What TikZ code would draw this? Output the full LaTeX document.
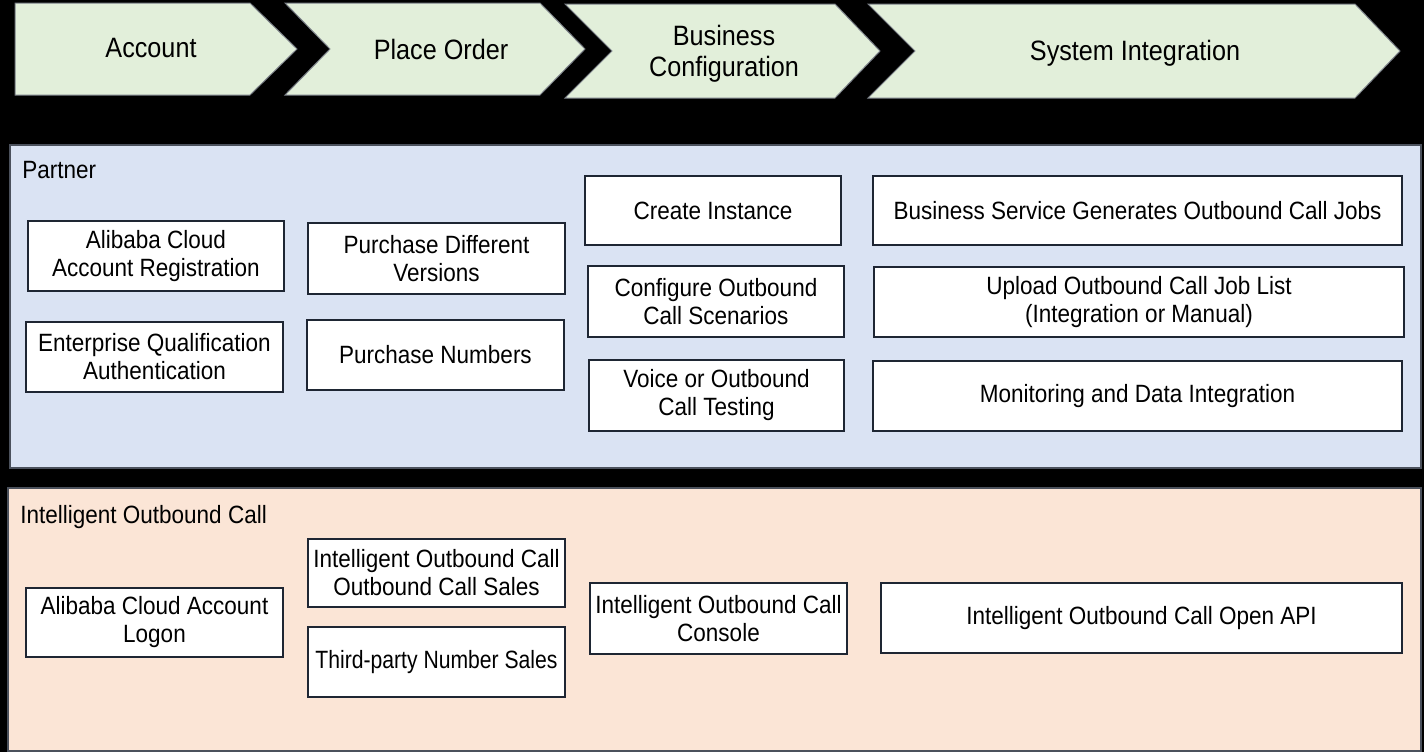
\documentclass[tikz,border=0pt]{standalone}
\usepackage{fontspec}
\setmainfont{Liberation Sans}[FakeStretch=0.9]
\definecolor{chevgreen}{HTML}{E2EFDA}
\definecolor{partnerblue}{HTML}{DAE3F3}
\definecolor{iocpeach}{HTML}{FBE5D6}
\definecolor{edgecol}{HTML}{1E2633}
\begin{document}
\begin{tikzpicture}[x=0.5pt,y=-0.5pt,
  itembox/.style={draw=edgecol, line width=0.8pt, fill=white, inner sep=0pt, align=center, font=\fontsize{12.5}{14}\selectfont},
  chevtext/.style={align=center, font=\fontsize{14}{15.5}\selectfont},
  chev/.style={draw=edgecol!60, line width=0.5pt, fill=chevgreen},
  panel/.style={draw=edgecol!80, line width=0.6pt},
  paneltitle/.style={anchor=west, font=\fontsize{12.5}{14}\selectfont, inner sep=0pt}]
\fill[black] (0,0) rectangle (1424,752);
\useasboundingbox (0,0) rectangle (1424,752);
% stage chevrons
\draw[chev] (15,3) -- (250,3) -- (297,49) -- (250,95) -- (15,95) -- cycle;
\draw[chev] (285,3) -- (540,3) -- (585,49) -- (540,95) -- (285,95) -- (330,49) -- cycle;
\draw[chev] (565,4) -- (835,4) -- (880,51) -- (835,98) -- (565,98) -- (612,51) -- cycle;
\draw[chev] (868,4) -- (1355,4) -- (1400,51) -- (1355,98) -- (868,98) -- (915,51) -- cycle;
\node[chevtext] (s1) at (151,48) {Account};
\node[chevtext] (s2) at (441,49) {Place Order};
\node[chevtext] (s3) at (724,54) {Business\\Configuration};
\node[chevtext] (s4) at (1135,53) {System Integration};
% panels
\draw[panel, fill=partnerblue] (10,145) rectangle (1421,468);
\node[paneltitle] (ptitle) at (22,170) {Partner};
\draw[panel, fill=iocpeach] (8,488) rectangle (1421,751);
\node[paneltitle] (ititle) at (20,517) {Intelligent Outbound Call};
% partner boxes
\node[itembox, minimum width=128pt, minimum height=35pt] (p1) at (156,256) {Alibaba Cloud\\Account Registration};
\node[itembox, minimum width=128.5pt, minimum height=35pt] (p2) at (154.5,357) {Enterprise Qualification\\Authentication};
\node[itembox, minimum width=128.5pt, minimum height=35.5pt] (p3) at (436.5,258.5) {Purchase Different\\Versions};
\node[itembox, minimum width=128.5pt, minimum height=35pt] (p4) at (435.5,355) {Purchase Numbers};
\node[itembox, minimum width=128pt, minimum height=34.5pt] (p5) at (713,210.5) {Create Instance};
\node[itembox, minimum width=128pt, minimum height=35.5pt] (p6) at (716,301.5) {Configure Outbound\\Call Scenarios};
\node[itembox, minimum width=127.5pt, minimum height=35.5pt] (p7) at (716.5,395.5) {Voice or Outbound\\Call Testing};
\node[itembox, minimum width=264.5pt, minimum height=34.5pt] (p8) at (1137.5,210.5) {Business Service Generates Outbound Call Jobs};
\node[itembox, minimum width=265pt, minimum height=35pt] (p9) at (1139,302) {Upload Outbound Call Job List\\(Integration or Manual)};
\node[itembox, minimum width=264.5pt, minimum height=35pt] (p10) at (1137.5,396) {Monitoring and Data Integration};
% intelligent outbound call boxes
\node[itembox, minimum width=128.5pt, minimum height=34.5pt] (i1) at (154.5,622.5) {Alibaba Cloud Account\\Logon};
\node[itembox, minimum width=128.5pt, minimum height=34pt] (i2) at (436.5,573) {Intelligent Outbound Call\\Outbound Call Sales};
\node[itembox, minimum width=128.5pt, minimum height=35pt] (i3) at (436.5,662) {\scalebox{0.94}[1]{Third-party Number Sales}};
\node[itembox, minimum width=128.5pt, minimum height=35.5pt] (i4) at (718.5,618.5) {Intelligent Outbound Call\\Console};
\node[itembox, minimum width=260.5pt, minimum height=35pt] (i5) at (1141.5,618) {Intelligent Outbound Call Open API};
\end{tikzpicture}
\end{document}
